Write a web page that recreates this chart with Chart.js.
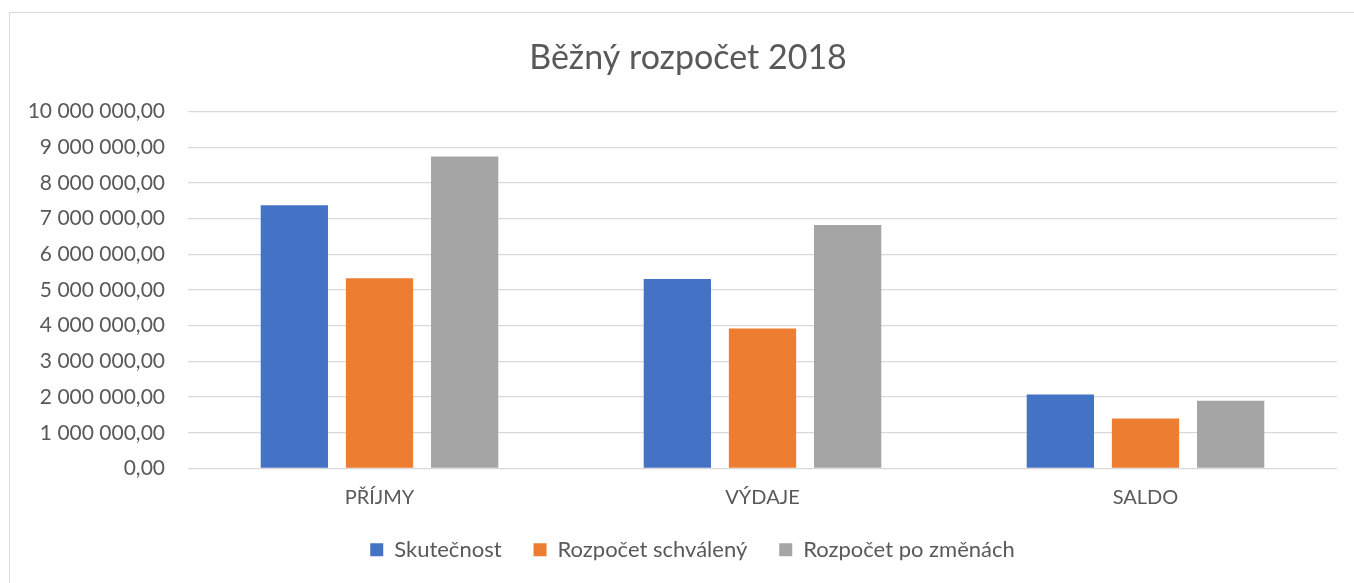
<!DOCTYPE html>
<html>
<head>
<meta charset="utf-8">
<script src="https://cdn.jsdelivr.net/npm/chart.js@4"></script>
<style>
  html, body { margin: 0; padding: 0; background: #fff; }
  #wrap {
    position: absolute; left: 9px; top: 12px;
    width: 1345px; height: 571px;
    border: 1px solid #d9d9d9; border-right: none; border-bottom: none;
  }
  #c { display: block; }
</style>
</head>
<body>
<div id="wrap"><canvas id="c" width="1344" height="570"></canvas></div>
<script>
// kategorie a hodnoty
const categories = ['PŘÍJMY', 'VÝDAJE', 'SALDO'];
const seriesNames = ['Skutečnost', 'Rozpočet schválený', 'Rozpočet po změnách'];
const skutecnost = [7375000, 5310000, 2070000];
const schvaleny = [5330000, 3920000, 1400000];
const poZmenach = [8740000, 6820000, 1900000];
const seriesColors = ['#4472c4', '#ed7d31', '#a5a5a5'];

const FONT = 'Lato, "Open Sans", sans-serif';
const TEXT = '#595959';

// 10 000 000,00
function fmt(v) {
  var parts = v.toFixed(2).split('.');
  var intPart = parts[0].replace(/\B(?=(\d{3})+(?!\d))/g, ' ');
  return intPart + ',' + parts[1];
}

const values = [skutecnost, schvaleny, poZmenach];

// legenda: velký padding kvůli mezerám mezi položkami,
// výšku držíme pevnou a posuneme ji nahoru; titulek i legendu trochu doprava
const LEGEND_H = 53.5;
const LEGEND_TOP = 493.8;
const LEGEND_SHIFT = 19;
const TITLE_SHIFT = 14.5;
const layoutFix = {
  id: 'layoutFix',
  beforeLayout: function(chart) {
    var lg = chart.legend;
    if (lg && !lg._fixedH) {
      var orig = lg.fit;
      lg.fit = function() { orig.call(this); this.height = LEGEND_H; };
      lg._fixedH = true;
    }
  },
  afterLayout: function(chart) {
    var lg = chart.legend;
    if (lg) {
      lg.top = LEGEND_TOP;
      lg.bottom = LEGEND_TOP + LEGEND_H;
      lg.left += LEGEND_SHIFT;
      lg.right += LEGEND_SHIFT;
    }
    var tb = chart.titleBlock;
    if (tb) {
      tb.left += TITLE_SHIFT;
      tb.right += TITLE_SHIFT;
    }
  }
};

new Chart(document.getElementById('c'), {
  type: 'bar',
  data: {
    labels: categories,
    datasets: seriesNames.map(function(name, i) {
      return {
        label: name,
        data: values[i],
        backgroundColor: seriesColors[i],
        borderWidth: 0,
        barPercentage: 0.79,
        categoryPercentage: 0.667
      };
    })
  },
  plugins: [layoutFix],
  options: {
    responsive: false,
    animation: false,
    layout: { padding: { left: 0, right: 17, top: 0, bottom: 0 } },
    plugins: {
      title: {
        display: true,
        text: 'Běžný rozpočet 2018',
        color: TEXT,
        font: { family: FONT, size: 34, weight: 'normal' },
        padding: { top: 24.6, bottom: 33.1 }
      },
      legend: {
        position: 'bottom',
        labels: {
          color: TEXT,
          font: { family: FONT, size: 22 },
          boxWidth: 13,
          boxHeight: 13,
          padding: 32
        }
      },
      tooltip: { enabled: false }
    },
    scales: {
      x: {
        afterFit: function(s) { s.height = 61; },
        grid: { display: false, drawTicks: false },
        border: { display: false },
        ticks: { color: TEXT, font: { family: FONT, size: 20 }, padding: 17.5 }
      },
      y: {
        min: 0,
        max: 10000000,
        afterFit: function(s) { s.width = 178; },
        grid: { color: '#d9d9d9', lineWidth: 1.3, drawTicks: false },
        border: { display: false },
        ticks: {
          stepSize: 1000000,
          color: TEXT,
          font: { family: FONT, size: 21 },
          padding: 23,
          callback: function(v) { return fmt(v); }
        }
      }
    }
  }
});
</script>
</body>
</html>
